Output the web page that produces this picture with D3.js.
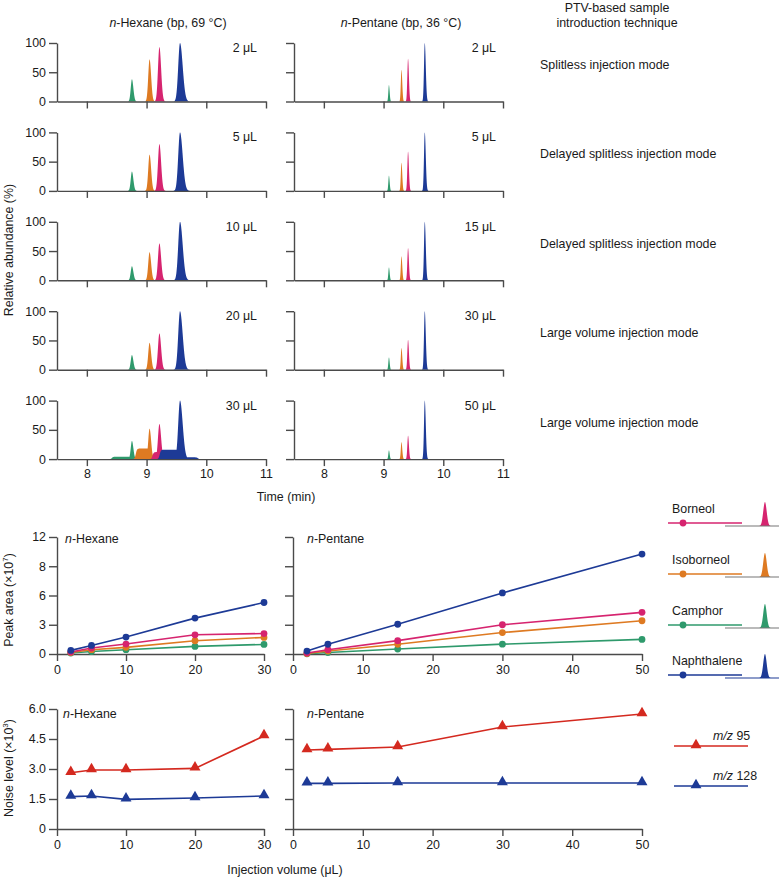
<!DOCTYPE html>
<html><head><meta charset="utf-8">
<script src="https://cdn.jsdelivr.net/npm/d3@7"></script>
<style>body{margin:0;background:#fff}</style>
</head><body><svg id="c" width="781" height="880"></svg>
<script>
// ---------------- DATA ----------------
const compounds = ["Camphor", "Isoborneol", "Borneol", "Naphthalene"];
const compoundColors = ["#2f9a6c", "#de7a22", "#d6246f", "#1d3a96"];
const legendOrder = ["Borneol", "Isoborneol", "Camphor", "Naphthalene"];

const hexaneVolumes = ["2 μL", "5 μL", "10 μL", "20 μL", "30 μL"];
const pentaneVolumes = ["2 μL", "5 μL", "15 μL", "30 μL", "50 μL"];
const injectionModes = ["Splitless injection mode", "Delayed splitless injection mode",
  "Delayed splitless injection mode", "Large volume injection mode", "Large volume injection mode"];

const timeTicks = [8, 9, 10, 11];
const abundanceTicks = [0, 50, 100];
// retention times (min) per compound
const hexaneRetention = [8.755, 9.05, 9.215, 9.56];
const pentaneRetention = [9.09, 9.30, 9.41, 9.69];
// relative abundance (%) per row (injection volume) and compound
const hexanePeakHeights = [[38, 72, 93, 100], [33, 62, 80, 100], [24, 48, 63, 100], [25, 46, 62, 100], [31, 52, 60, 100]];
const pentanePeakHeights = [[28, 54, 73, 100], [26, 48, 67, 100], [22, 41, 55, 100], [21, 37, 51, 100], [15, 29, 40, 100]];
// peak widths (sigma, min) and tailing factors
const hexanePeakWidths = [0.02, 0.022, 0.024, 0.03];
const hexaneTailing = [1.2, 1.2, 1.2, 1.5];
const pentanePeakWidths = [0.01, 0.011, 0.012, 0.013];
const pentaneTailing = [1.2, 1.2, 1.2, 1.3];
// broad plateaus seen in n-hexane 30 μL: [compound index, start, end, level %]
const hexane30Plateaus = [[0, 8.42, 8.83, 4], [1, 8.82, 9.1, 18], [2, 9.1, 9.27, 12], [3, 9.22, 9.6, 16], [3, 9.58, 9.86, 3]];

// Peak area (x10^7)
const hexaneVol = [2, 5, 10, 20, 30];
const pentaneVol = [2, 5, 15, 30, 50];
const hexaneArea = {
  Borneol: [0.2, 0.61, 1.02, 1.97, 2.1],
  Isoborneol: [0.15, 0.44, 0.68, 1.36, 1.7],
  Camphor: [0.1, 0.25, 0.44, 0.78, 0.98],
  Naphthalene: [0.37, 0.88, 1.74, 3.68, 5.28]
};
const pentaneArea = {
  Borneol: [0.1, 0.44, 1.37, 3.0, 4.27],
  Isoborneol: [0.05, 0.3, 1.0, 2.2, 3.41],
  Camphor: [0.02, 0.15, 0.51, 1.01, 1.5],
  Naphthalene: [0.3, 1.0, 3.05, 6.26, 10.25]
};
const areaTickValues = [0, 3, 6, 9, 12];
const areaTickLabels = ["0", "3", "6", "8", "12"];

// Noise level (x10^3)
const ionLabels = ["95", "128"];
const ionColors = ["#d4291f", "#1d3a96"];
const hexaneNoise95 = [2.81, 2.95, 2.95, 3.03, 4.65];
const hexaneNoise128 = [1.62, 1.65, 1.48, 1.55, 1.65];
const pentaneNoise95 = [3.95, 3.98, 4.1, 5.1, 5.75];
const pentaneNoise128 = [2.28, 2.28, 2.3, 2.3, 2.3];
const noiseTickValues = [0, 1.5, 3, 4.5, 6];
const noiseTickLabels = ["0", "1.5", "3.0", "4.5", "6.0"];
const hexaneVolTicks = [0, 10, 20, 30];
const pentaneVolTicks = [0, 10, 20, 30, 40, 50];

// ---------------- DRAWING ----------------
const FONT = "'Liberation Sans', Arial, Helvetica, sans-serif";
const FS = 12.4;
const TXT = "#1a1a1a";
const AX = "#4a4a4a";
const svg = d3.select("#c").attr("font-family", FONT);
const colorOf = name => compoundColors[compounds.indexOf(name)];

function styleAxis(g) {
  g.attr("font-family", FONT).attr("font-size", FS);
  g.selectAll("path,line").attr("stroke", AX).attr("stroke-width", 1.4);
  g.selectAll("text").attr("fill", TXT);
  return g;
}
function text(x, y, s, opts = {}) {
  const t = svg.append("text").attr("x", x).attr("y", y).attr("font-size", opts.size || FS)
    .attr("fill", TXT).attr("text-anchor", opts.anchor || "start");
  if (opts.rotate) t.attr("transform", `rotate(-90,${x},${y})`);
  return t.text(s);
}
function italicN(x, y, rest, anchor) {
  const t = svg.append("text").attr("x", x).attr("y", y).attr("font-size", FS)
    .attr("fill", TXT).attr("text-anchor", anchor || "start");
  t.append("tspan").attr("font-style", "italic").text("n");
  t.append("tspan").text(rest);
  return t;
}

// --- chromatograms ---
const ROW0 = 101.5, ROWSTEP = 89.4, ROWH = 58.5;
const panels = [
  { x0: 57, x1: 266, heights: hexanePeakHeights, rt: hexaneRetention, w: hexanePeakWidths, tail: hexaneTailing, vols: hexaneVolumes, labels: true, volX: 257 },
  { x0: 294, x1: 503, heights: pentanePeakHeights, rt: pentaneRetention, w: pentanePeakWidths, tail: pentaneTailing, vols: pentaneVolumes, labels: false, volX: 496 }
];
const times = d3.range(7.5, 11.0005, 0.0015);

panels.forEach((P, pi) => {
  const x = d3.scaleLinear().domain([7.5, 11]).range([P.x0, P.x1]);
  for (let r = 0; r < 5; r++) {
    const y0 = ROW0 + r * ROWSTEP;
    const y = d3.scaleLinear().domain([0, 100]).range([y0, y0 - ROWH]);
    const plateaus = (pi === 0 && r === 4) ? hexane30Plateaus : [];
    compounds.forEach((c, k) => {
      const f = t => {
        const s = t < P.rt[k] ? P.w[k] : P.w[k] * P.tail[k];
        let v = P.heights[r][k] * Math.exp(-0.5 * Math.pow((t - P.rt[k]) / s, 2));
        plateaus.filter(p => p[0] === k).forEach(p => {
          const e = 0.01;
          const pv = p[3] / (1 + Math.exp(-(t - p[1]) / e)) / (1 + Math.exp(-(p[2] - t) / e));
          v = Math.max(v, pv);
        });
        return v;
      };
      const pts = times.map(t => [t, f(t)]);
      svg.append("path").datum(pts)
        .attr("d", d3.area().defined(d => d[1] > 0.15).x(d => x(d[0])).y0(y(0)).y1(d => y(d[1])))
        .attr("fill", compoundColors[k]);
    });
    const ya = svg.append("g").attr("transform", `translate(${P.x0},0)`)
      .call(d3.axisLeft(y).tickValues(abundanceTicks).tickSize(8).tickPadding(3).tickSizeOuter(0)
        .tickFormat(P.labels ? d3.format("d") : () => ""));
    styleAxis(ya);
    const xa = svg.append("g").attr("transform", `translate(0,${y0})`)
      .call(d3.axisBottom(x).tickValues(timeTicks).tickSize(7).tickPadding(3).tickSizeOuter(0)
        .tickFormat(r === 4 ? d3.format("d") : () => ""));
    styleAxis(xa);
    text(P.volX, y0 - ROWH + 9, P.vols[r], { anchor: "end" });
    if (pi === 1) text(540, y0 - ROWH + 26, injectionModes[r]);
  }
});

italicN(168, 27, "-Hexane (bp, 69 °C)", "middle");
italicN(401, 27, "-Pentane (bp, 36 °C)", "middle");
text(617, 12, "PTV-based sample", { anchor: "middle" });
text(617, 27, "introduction technique", { anchor: "middle" });
text(286, 501, "Time (min)", { anchor: "middle" });
text(13, 250, "Relative abundance (%)", { anchor: "middle", rotate: true });

// --- peak area & noise ---
const xHex = d3.scaleLinear().domain([0, 30]).range([57, 264]);
const xPen = d3.scaleLinear().domain([0, 50]).range([293, 642]);
const yArea = d3.scaleLinear().domain([0, 12]).range([654, 537]);
const yNoise = d3.scaleLinear().domain([0, 6]).range([829, 709]);

function frame(x, y, xticks, yticks, ylabels, showY, ybase) {
  const ya = svg.append("g").attr("transform", `translate(${x.range()[0]},0)`)
    .call(d3.axisLeft(y).tickValues(yticks).tickSize(8).tickPadding(3).tickSizeOuter(0)
      .tickFormat((d, i) => showY ? ylabels[i] : ""));
  styleAxis(ya);
  const xa = svg.append("g").attr("transform", `translate(0,${ybase})`)
    .call(d3.axisBottom(x).tickValues(xticks).tickSize(7).tickPadding(4).tickSizeOuter(0).tickFormat(d3.format("d")));
  styleAxis(xa);
}
frame(xHex, yArea, hexaneVolTicks, areaTickValues, areaTickLabels, true, 654);
frame(xPen, yArea, pentaneVolTicks, areaTickValues, areaTickLabels, false, 654);
frame(xHex, yNoise, hexaneVolTicks, noiseTickValues, noiseTickLabels, true, 829);
frame(xPen, yNoise, pentaneVolTicks, noiseTickValues, noiseTickLabels, false, 829);

function series(x, y, xs, ys, color, marker) {
  const pts = xs.map((v, i) => [v, ys[i]]);
  svg.append("path").datum(pts).attr("d", d3.line().x(d => x(d[0])).y(d => y(d[1])))
    .attr("fill", "none").attr("stroke", color).attr("stroke-width", 1.6);
  if (marker === "circle") {
    svg.append("g").selectAll("circle").data(pts).join("circle")
      .attr("cx", d => x(d[0])).attr("cy", d => y(d[1])).attr("r", 3.4).attr("fill", color);
  } else {
    svg.append("g").selectAll("path").data(pts).join("path")
      .attr("d", d3.symbol(d3.symbolTriangle, 52))
      .attr("transform", d => `translate(${x(d[0])},${y(d[1]) - 1})`).attr("fill", color);
  }
}
const drawOrder = ["Camphor", "Isoborneol", "Borneol", "Naphthalene"];
drawOrder.forEach(n => {
  series(xHex, yArea, hexaneVol, hexaneArea[n], colorOf(n), "circle");
  series(xPen, yArea, pentaneVol, pentaneArea[n], colorOf(n), "circle");
});
series(xHex, yNoise, hexaneVol, hexaneNoise95, ionColors[0], "tri");
series(xHex, yNoise, hexaneVol, hexaneNoise128, ionColors[1], "tri");
series(xPen, yNoise, pentaneVol, pentaneNoise95, ionColors[0], "tri");
series(xPen, yNoise, pentaneVol, pentaneNoise128, ionColors[1], "tri");

italicN(65, 543, "-Hexane");
italicN(307, 543, "-Pentane");
italicN(63, 718, "-Hexane");
italicN(307, 718, "-Pentane");

// axis titles with superscripts
function supTitle(x, y, main, sup, close) {
  const t = svg.append("text").attr("x", x).attr("y", y).attr("font-size", FS).attr("fill", TXT)
    .attr("text-anchor", "middle").attr("transform", `rotate(-90,${x},${y})`);
  t.append("tspan").text(main);
  t.append("tspan").attr("font-size", 8).attr("dy", -5).text(sup);
  t.append("tspan").attr("dy", 5).text(close);
}
supTitle(13, 600, "Peak area (×10", "7", ")");
supTitle(13, 768, "Noise level (×10", "3", ")");
text(285, 874, "Injection volume (μL)", { anchor: "middle" });

// --- legend: compounds ---
const legY = [523, 574, 625, 675];
legendOrder.forEach((n, i) => {
  const c = colorOf(n), ly = legY[i];
  text(672, ly - 10, n);
  svg.append("line").attr("x1", 668).attr("x2", 742).attr("y1", ly).attr("y2", ly)
    .attr("stroke", c).attr("stroke-width", 1.6);
  svg.append("circle").attr("cx", 683).attr("cy", ly).attr("r", 3.4).attr("fill", c);
  const bx = d3.scaleLinear().domain([0, 1]).range([725, 779]);
  const pk = d3.range(0, 1.0001, 0.005).map(t => [t, 24 * Math.exp(-0.5 * Math.pow((t - 0.74) / 0.032, 2))]);
  svg.append("path").datum(pk)
    .attr("d", d3.area().defined(d => d[1] > 0.1).x(d => bx(d[0])).y0(ly + 3).y1(d => ly + 3 - d[1]))
    .attr("fill", c);
  svg.append("line").attr("x1", 725).attr("x2", 779).attr("y1", ly + 3).attr("y2", ly + 3)
    .attr("stroke", n === "Naphthalene" ? c : "#777").attr("stroke-width", 1.2);
});

// --- legend: ions ---
const ionY = [746, 786];
ionLabels.forEach((lab, i) => {
  const ly = ionY[i], c = ionColors[i];
  svg.append("line").attr("x1", 674).attr("x2", 748).attr("y1", ly).attr("y2", ly)
    .attr("stroke", c).attr("stroke-width", 1.6);
  svg.append("path").attr("d", d3.symbol(d3.symbolTriangle, 52)).attr("transform", `translate(696,${ly - 1})`).attr("fill", c);
  const t = svg.append("text").attr("x", 713).attr("y", ly - 6).attr("font-size", FS).attr("fill", TXT);
  t.append("tspan").attr("font-style", "italic").text("m/z");
  t.append("tspan").text(" " + lab);
});
</script>
</body></html>
